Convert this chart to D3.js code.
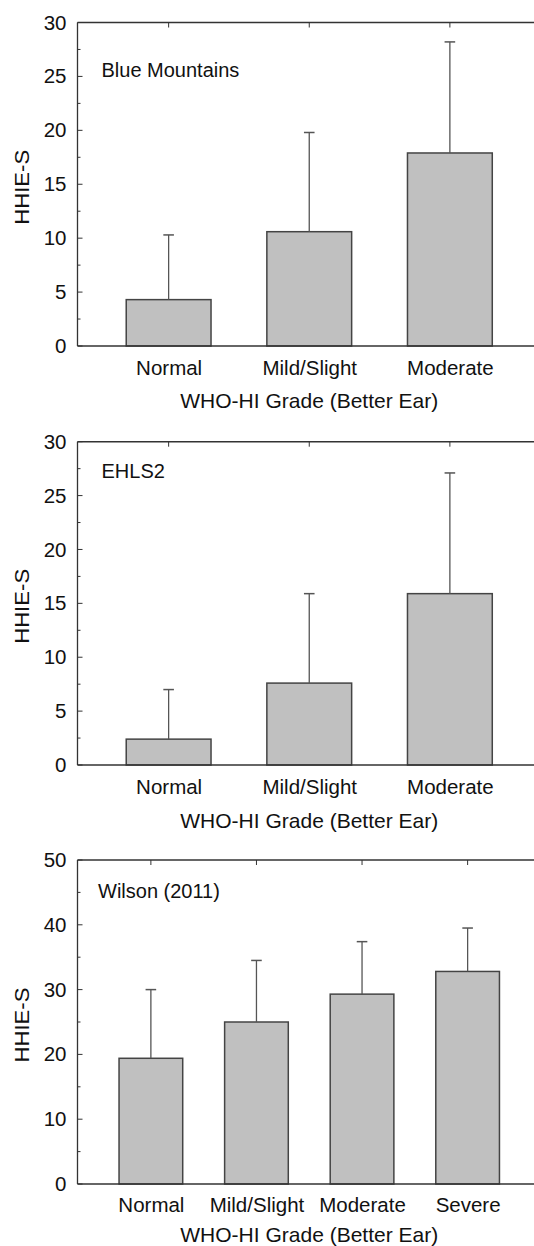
<!DOCTYPE html>
<html>
<head>
<meta charset="utf-8">
<script src="https://cdn.jsdelivr.net/npm/d3@7"></script>
<style>
  html, body { margin: 0; padding: 0; background: #fff; }
  svg { display: block; }
  text { font-family: "Liberation Sans", Arial, sans-serif; fill: #111; }
</style>
</head>
<body>
<svg id="chart" width="534" height="1246"></svg>
<script>
// ---------- data ----------
const panelTitles = ["Blue Mountains", "EHLS2", "Wilson (2011)"];
const categories3 = ["Normal", "Mild/Slight", "Moderate"];
const categories4 = ["Normal", "Mild/Slight", "Moderate", "Severe"];
const blueMountainsMean = [4.3, 10.6, 17.9];
const blueMountainsUpper = [10.3, 19.8, 28.2];
const ehls2Mean = [2.4, 7.6, 15.9];
const ehls2Upper = [7.0, 15.9, 27.1];
const wilsonMean = [19.4, 25.0, 29.3, 32.8];
const wilsonUpper = [30.0, 34.5, 37.4, 39.5];
const yTicks30 = [0, 5, 10, 15, 20, 25, 30];
const yMinor30 = [2.5, 7.5, 12.5, 17.5, 22.5, 27.5];
const yTicks50 = [0, 10, 20, 30, 40, 50];
const yMinor50 = [5, 15, 25, 35, 45];
const yAxisLabel = "HHIE-S";
const xAxisLabel = "WHO-HI Grade (Better Ear)";

// ---------- layout ----------
const panels = [
  { title: panelTitles[0], cats: categories3, mean: blueMountainsMean, upper: blueMountainsUpper,
    yMax: 30, ticks: yTicks30, minor: yMinor30, top: 22.5, bottom: 346, pad: 0.648,
    titleY: 77.3, titleX: 101.5, catY: 375, axY: 408 },
  { title: panelTitles[1], cats: categories3, mean: ehls2Mean, upper: ehls2Upper,
    yMax: 30, ticks: yTicks30, minor: yMinor30, top: 441.7, bottom: 765, pad: 0.648,
    titleY: 478.3, titleX: 101.5, catY: 794, axY: 828 },
  { title: panelTitles[2], cats: categories4, mean: wilsonMean, upper: wilsonUpper,
    yMax: 50, ticks: yTicks50, minor: yMinor50, top: 860, bottom: 1184, pad: 0.695,
    titleY: 897.7, titleX: 98, catY: 1212, axY: 1242 }
];

const left = 77.5, right = 541, clipRight = 534;
const svg = d3.select("#chart");
const axisColor = "#333";
const FONT = '"Liberation Sans", Arial, sans-serif';

panels.forEach(p => {
  const g = svg.append("g");
  const x = d3.scalePoint().domain(p.cats).range([left, right]).padding(p.pad);
  const step = x.step();
  const bw = step * 0.603;
  const y = d3.scaleLinear().domain([0, p.yMax]).range([p.bottom, p.top]);

  // bars
  g.selectAll("rect.bar").data(p.cats).enter().append("rect")
    .attr("x", d => x(d) - bw / 2)
    .attr("y", (d, i) => y(p.mean[i]))
    .attr("width", bw)
    .attr("height", (d, i) => y(0) - y(p.mean[i]))
    .attr("fill", "#c0c0c0")
    .attr("stroke", "#444")
    .attr("stroke-width", 1.5);

  // error bars
  g.selectAll("line.err").data(p.cats).enter().append("line")
    .attr("x1", d => x(d)).attr("x2", d => x(d))
    .attr("y1", (d, i) => y(p.mean[i]))
    .attr("y2", (d, i) => y(p.upper[i]))
    .attr("stroke", "#555").attr("stroke-width", 1.3);
  g.selectAll("line.cap").data(p.cats).enter().append("line")
    .attr("x1", d => x(d) - 5.3).attr("x2", d => x(d) + 5.3)
    .attr("y1", (d, i) => y(p.upper[i]))
    .attr("y2", (d, i) => y(p.upper[i]))
    .attr("stroke", "#555").attr("stroke-width", 1.5);

  // left axis (ticks pointing inward)
  const yAxis = d3.axisLeft(y).tickValues(p.ticks).tickSize(0).tickPadding(11);
  const ya = g.append("g").attr("transform", `translate(${left},0)`).call(yAxis);
  ya.select(".domain").remove();
  ya.selectAll("text").style("font-size", "20.5px").attr("fill", "#111")
    .style("font-family", FONT);
  g.selectAll("line.ymaj").data(p.ticks).enter().append("line")
    .attr("x1", left).attr("x2", left + 5)
    .attr("y1", d => y(d)).attr("y2", d => y(d))
    .attr("stroke", axisColor).attr("stroke-width", 1);
  g.selectAll("line.ymin").data(p.minor).enter().append("line")
    .attr("x1", left).attr("x2", left + 3)
    .attr("y1", d => y(d)).attr("y2", d => y(d))
    .attr("stroke", axisColor).attr("stroke-width", 1);
  g.append("line").attr("x1", left).attr("x2", left)
    .attr("y1", y(p.yMax)).attr("y2", y(0))
    .attr("stroke", axisColor).attr("stroke-width", 1.3);

  // top border with inward ticks at category positions
  g.append("line").attr("x1", left).attr("x2", clipRight)
    .attr("y1", y(p.yMax)).attr("y2", y(p.yMax))
    .attr("stroke", axisColor).attr("stroke-width", 1.5);
  g.selectAll("line.ttick").data(p.cats).enter().append("line")
    .attr("x1", d => x(d)).attr("x2", d => x(d))
    .attr("y1", y(p.yMax)).attr("y2", y(p.yMax) + 5)
    .attr("stroke", axisColor).attr("stroke-width", 1);

  // bottom axis
  const xAxis = d3.axisBottom(x).tickSize(0).tickPadding(0);
  const xa = g.append("g").attr("transform", `translate(0,${p.bottom})`).call(xAxis);
  xa.select(".domain").remove();
  xa.selectAll("text").attr("y", p.catY - p.bottom).attr("dy", null)
    .style("font-size", "20.5px").attr("fill", "#111")
    .style("font-family", FONT);
  g.append("line").attr("x1", left).attr("x2", clipRight)
    .attr("y1", y(0)).attr("y2", y(0))
    .attr("stroke", axisColor).attr("stroke-width", 1.5);

  // panel title
  g.append("text").attr("x", p.titleX).attr("y", p.titleY)
    .style("font-size", "20px").text(p.title);

  // axis titles
  g.append("text").attr("x", (left + right) / 2).attr("y", p.axY)
    .attr("text-anchor", "middle").style("font-size", "21px").text(xAxisLabel);
  const cy = (p.top + p.bottom) / 2 + 3;
  g.append("text")
    .attr("transform", `translate(28.5,${cy}) rotate(-90)`)
    .attr("text-anchor", "middle")
    .attr("textLength", 75).attr("lengthAdjust", "spacingAndGlyphs")
    .style("font-size", "21px").text(yAxisLabel);
});
</script>
</body>
</html>
